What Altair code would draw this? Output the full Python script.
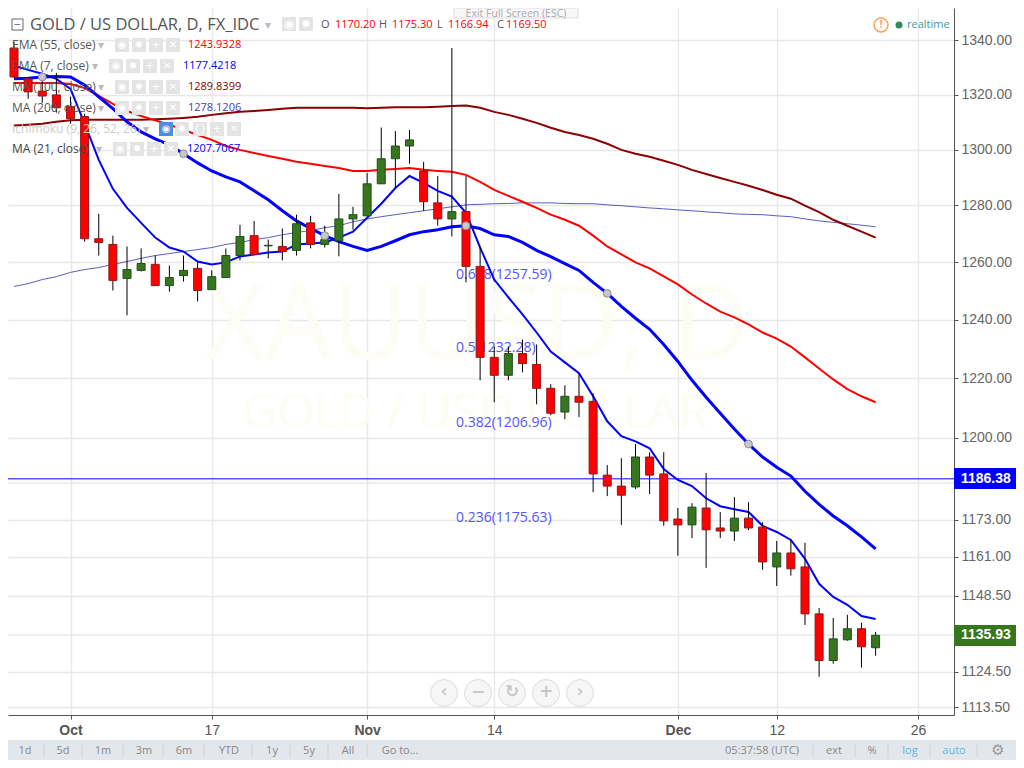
import altair as alt
import pandas as pd

# ---------- data ----------
bar_index = list(range(-4, 58))
opens = [1337.2,1325.8,1321.3,1319.9,1315.6,1312.0,1268.2,1266.2,1254.3,1257.1,1259.2,1251.8,1255.3,1257.8,1250.4,1254.6,1262.3,1269.3,1265.7,1265.5,1264.1,1273.8,1266.2,1267.5,1275.2,1276.3,1287.7,1296.7,1301.3,1292.3,1280.9,1275.2,1277.8,1258.5,1227.1,1221.0,1228.4,1224.7,1216.6,1208.6,1213.9,1212.2,1187.6,1184.0,1183.7,1193.6,1188.0,1173.2,1171.3,1176.8,1170.3,1169.3,1173.5,1170.6,1157.7,1162.2,1157.7,1142.7,1128.0,1134.5,1138.0,1132.0]
closes = [1326.5,1321.0,1319.5,1315.2,1311.2,1268.2,1266.9,1253.6,1257.4,1259.5,1251.8,1254.6,1257.1,1250.1,1254.9,1262.3,1269.0,1262.7,1265.9,1263.7,1273.5,1266.2,1267.9,1275.2,1276.7,1287.7,1296.7,1301.3,1303.5,1281.3,1275.2,1277.8,1258.5,1227.1,1221.0,1228.4,1225.0,1216.6,1208.2,1213.9,1211.9,1188.0,1184.0,1181.0,1193.6,1187.6,1172.6,1171.3,1177.1,1169.7,1169.3,1173.5,1170.3,1159.3,1162.2,1157.1,1142.7,1128.0,1134.8,1138.0,1132.3,1135.93]
highs = [1339.5,1325.8,1326.1,1328.0,1319.2,1313.0,1277.0,1269.3,1265.5,1264.8,1262.3,1258.8,1262.3,1259.9,1257.1,1264.8,1273.1,1274.5,1267.9,1271.8,1276.7,1276.3,1272.8,1284.1,1279.5,1291.6,1308.0,1306.7,1307.1,1295.6,1290.5,1337.2,1290.5,1265.5,1230.8,1230.8,1233.2,1231.5,1218.0,1217.6,1221.7,1214.9,1190.9,1193.2,1197.9,1195.2,1195.2,1176.8,1178.4,1188.3,1175.5,1180.4,1178.7,1172.2,1166.1,1166.4,1165.5,1144.6,1141.4,1142.4,1139.9,1137.0]
lows = [1326.1,1318.5,1317.0,1313.4,1309.4,1267.2,1262.3,1250.1,1241.5,1256.7,1251.8,1249.7,1253.2,1246.3,1250.4,1254.6,1260.6,1262.7,1261.3,1260.6,1262.3,1264.8,1265.1,1262.0,1271.4,1276.3,1287.7,1286.2,1294.9,1278.1,1272.8,1269.0,1252.9,1219.3,1211.9,1219.3,1222.0,1211.2,1207.5,1206.2,1206.9,1182.0,1180.7,1171.3,1183.0,1181.4,1171.0,1161.3,1167.0,1157.4,1167.0,1166.1,1169.6,1156.8,1151.6,1154.9,1139.2,1122.9,1127.0,1134.2,1125.8,1129.5]

ma21 = [1325.8,1326.0,1326.5,1326.7,1326.5,1323.5,1319.2,1314.9,1310.1,1306.4,1303.9,1301.7,1298.5,1295.2,1292.3,1290.2,1288.4,1285.2,1282.0,1278.1,1274.5,1271.8,1269.3,1267.2,1265.5,1264.1,1265.5,1267.5,1269.6,1270.7,1271.4,1272.4,1272.8,1271.8,1269.6,1269.0,1266.9,1264.1,1261.9,1259.5,1257.1,1252.9,1249.1,1244.6,1240.5,1236.7,1231.5,1225.7,1219.3,1213.6,1208.2,1202.9,1197.9,1193.6,1190.2,1187.3,1182.3,1178.0,1174.2,1171.0,1167.4,1163.5]
ema7 = [1330.6,1329.1,1327.7,1325.8,1322.1,1309.4,1296.3,1285.9,1279.1,1273.8,1268.6,1265.1,1263.7,1260.2,1259.2,1259.9,1262.0,1262.7,1263.4,1263.7,1266.2,1266.5,1266.9,1268.6,1270.7,1275.6,1280.6,1286.2,1290.5,1288.0,1285.2,1283.1,1277.4,1265.1,1253.9,1247.7,1241.8,1235.6,1229.1,1225.4,1221.7,1213.9,1205.5,1200.5,1198.8,1196.5,1189.6,1186.0,1184.0,1180.0,1177.4,1176.4,1175.5,1171.0,1169.0,1166.4,1160.3,1152.3,1148.1,1145.6,1142.0,1141.1]
ema55 = [1324.3,1324.3,1324.3,1324.3,1323.9,1322.4,1319.5,1316.6,1314.0,1312.2,1310.6,1309.0,1307.2,1305.3,1303.5,1301.3,1299.9,1298.8,1297.7,1296.7,1295.6,1294.9,1294.1,1293.4,1292.3,1292.3,1292.7,1293.0,1293.4,1292.7,1292.3,1292.0,1290.9,1288.4,1285.5,1283.4,1281.3,1279.1,1276.7,1274.9,1272.8,1269.3,1265.5,1262.7,1259.9,1257.8,1255.0,1252.2,1248.7,1245.6,1242.8,1240.8,1238.4,1235.6,1233.5,1230.8,1227.1,1223.3,1219.6,1216.3,1213.9,1211.9]
ma100 = [1308.7,1309.0,1309.4,1310.1,1310.6,1310.8,1310.8,1310.8,1310.8,1310.8,1311.0,1311.2,1311.5,1311.9,1312.6,1313.2,1313.7,1314.0,1314.4,1314.8,1315.2,1315.2,1315.2,1315.2,1315.2,1315.0,1315.2,1315.4,1315.4,1315.4,1315.6,1315.8,1316.0,1315.2,1313.7,1312.6,1311.2,1309.7,1307.9,1306.4,1305.3,1303.9,1302.1,1299.9,1298.5,1297.4,1296.0,1294.5,1292.7,1291.2,1289.8,1288.4,1287.0,1285.5,1283.8,1282.4,1279.9,1277.6,1274.9,1272.8,1270.7,1268.6]
ma200 = [1251.5,1252.5,1253.9,1254.9,1256.4,1257.4,1258.1,1259.2,1260.2,1261.3,1262.3,1263.0,1263.7,1264.4,1265.1,1266.2,1266.9,1267.9,1268.6,1269.6,1270.4,1271.1,1272.1,1272.8,1274.2,1275.2,1276.0,1276.7,1277.4,1278.1,1278.8,1279.5,1280.2,1280.4,1280.6,1280.7,1280.9,1280.9,1280.9,1280.7,1280.6,1280.6,1280.2,1279.9,1279.5,1279.1,1278.8,1278.4,1278.1,1277.7,1277.4,1277.0,1276.8,1276.7,1276.3,1276.0,1275.2,1274.5,1274.0,1273.5,1273.0,1272.4]
anchor_bars = [-2, 8, 18, 28, 38, 48]

price_ticks = [1340, 1320, 1300, 1280, 1260, 1240, 1220, 1200, 1173, 1161, 1148.5, 1124.5, 1113.5]
extra_grid = [1185, 1136]
date_ticks = [0, 10, 21, 30, 43, 50, 60]
date_labels = ["Oct", "17", "Nov", "14", "Dec", "12", "26"]
bold_dates = [0, 21, 43]

fib_labels = ["0.618(1257.59)", "0.5(1232.28)", "0.382(1206.96)", "0.236(1175.63)"]
fib_prices = [1257.59, 1232.28, 1206.96, 1175.63]

last_line = 1186.38
last_close = 1135.93

# ---------- scales ----------
xscale = alt.Scale(domain=[-4.425, 62.55], nice=False, zero=False, padding=0)
yscale = alt.Scale(type="log", domain=[1111.05, 1352.15], nice=False, zero=False, padding=0)
FONT = "Liberation Sans"
UI = "Open Sans"

date_expr = "".join(f"datum.value=={v}?'{t}':" for v, t in zip(date_ticks, date_labels)) + "''"
bold_test = "||".join(f"datum.value=={v}" for v in bold_dates)

x_axis = alt.Axis(values=date_ticks, labelExpr=date_expr, title=None, grid=True,
                  gridColor="#e8e8e8", gridWidth=1.4, domainColor="#555555", tickColor="#555555",
                  tickSize=4, labelFont=FONT, labelFontSize=14, labelColor="#555555", labelPadding=4,
                  labelFontWeight=alt.condition(bold_test, alt.value("bold"), alt.value("normal")),
                  labelOverlap=False)
y_axis = alt.Axis(values=price_ticks, format=".2f", orient="right", title=None, grid=True,
                  gridColor="#e8e8e8", gridWidth=1.4, domainColor="#555555", tickColor="#555555",
                  tickSize=4, labelFont=FONT, labelFontSize=14, labelColor="#666666", labelPadding=3,
                  labelOverlap=False)

X = alt.X("i:Q", scale=xscale, axis=x_axis)


def Y(field):
    return alt.Y(field, scale=yscale, axis=y_axis)


bars = pd.DataFrame({"i": bar_index, "o": opens, "c": closes, "h": highs, "l": lows,
                     "ma21": ma21, "ema7": ema7, "ema55": ema55, "ma100": ma100, "ma200": ma200})
bars["dir"] = ["up" if c >= o else "down" for o, c in zip(opens, closes)]
one = pd.DataFrame({"a": [0]})
layers = []


# ---------- page furniture in pixel coordinates (page minus 8px margin) ----------
def label(s, x, y, color="#555555", size=12, weight="normal", align="left", font=UI):
    return alt.Chart(one).mark_text(text=s, color=color, fontSize=size, fontWeight=weight,
                                    align=align, baseline="middle", font=font).encode(
        x=alt.value(x - 8), y=alt.value(y - 8))


def box(x0, y0, x1, y1, fill, stroke=None, opacity=1):
    kw = {"stroke": stroke} if stroke else {}
    return alt.Chart(one).mark_rect(color=fill, opacity=opacity, **kw).encode(
        x=alt.value(x0 - 8), x2=alt.value(x1 - 8), y=alt.value(y0 - 8), y2=alt.value(y1 - 8))


def dot(x, y, d, fill, stroke=None, sw=1):
    kw = {"stroke": stroke, "strokeWidth": sw} if stroke else {"strokeWidth": 0}
    return alt.Chart(one).mark_point(filled=True, fill=fill, shape="circle", size=d * d, opacity=1, **kw).encode(
        x=alt.value(x - 8), y=alt.value(y - 8))


# watermark
layers.append(label("XAUUSD, D", 477, 327, "#fdfcf5", 105, align="center"))
layers.append(label("GOLD / USD DOLLAR", 475, 414, "#fdfcf5", 48, align="center"))

# extra grid lines
layers.append(alt.Chart(pd.DataFrame({"p": extra_grid})).mark_rule(color="#e8e8e8", strokeWidth=1.4).encode(
    y=Y("p:Q")))

# fibonacci labels
layers.append(alt.Chart(pd.DataFrame({"t": fib_labels, "p": fib_prices})).mark_text(
    align="left", baseline="middle", dy=6, font=UI, fontSize=14, color="#5555ff").encode(
    x=alt.value(456 - 8), y=Y("p:Q"), text="t:N"))

# indicator lines
for col, colr, w, op in [("ma200", "#3f3fb5", 1, 0.85), ("ma100", "#8b0000", 2, 1), ("ema55", "#ff0000", 2, 1),
                         ("ema7", "#0000ff", 2, 1), ("ma21", "#0000ff", 3, 1)]:
    layers.append(alt.Chart(bars).mark_line(color=colr, strokeWidth=w, opacity=op, interpolate="linear").encode(
        x=X, y=Y(f"{col}:Q")))

# horizontal line at the latest drawn level
layers.append(alt.Chart(pd.DataFrame({"p": [last_line]})).mark_rule(color="#0000ff", strokeWidth=1).encode(
    y=Y("p:Q")))

# candles
layers.append(alt.Chart(bars).mark_rule(color="#000000", strokeWidth=1).encode(
    x=X, y=Y("h:Q"), y2="l:Q"))
dir_dom = ["up", "down"]
layers.append(alt.Chart(bars).mark_bar(size=8, strokeWidth=1, opacity=1).encode(
    x=X, y=Y("o:Q"), y2="c:Q",
    color=alt.Color("dir:N", scale=alt.Scale(domain=dir_dom, range=["#38761d", "#ff0000"]), legend=None),
    stroke=alt.Stroke("dir:N", scale=alt.Scale(domain=dir_dom, range=["#1f4f22", "#8b1a1a"]), legend=None)))

# drawing anchors on the thick line
layers.append(alt.Chart(bars[bars["i"].isin(anchor_bars)]).mark_point(
    filled=True, fill="#c8c8c8", stroke="#8f8f8f", strokeWidth=1, size=60, opacity=1).encode(
    x=X, y=Y("ma21:Q")))

# price tags
layers.append(box(954, 468, 1016, 489, "#0000ff"))
layers.append(box(954, 625, 1016, 646, "#38761d"))
layers.append(alt.Chart(pd.DataFrame({"p": [last_line, last_close]})).mark_text(
    align="left", baseline="middle", font=FONT, fontSize=14, fontWeight="bold", color="#ffffff").encode(
    x=alt.value(961 - 8), y=Y("p:Q"), text=alt.Text("p:Q", format=".2f")))

# fullscreen hint (under the price read-out)
layers.append(box(454, 8, 578, 18, "#f8f8f8", "#dddddd"))
layers.append(label("Exit Full Screen (ESC)", 516, 14, "#aaaaaa", 10.5, align="center"))

# header
layers.append(box(12, 19, 23, 30, "#ffffff", "#666666"))
layers.append(label("−", 17.5, 24.5, "#666666", 12, align="center"))
layers.append(label("GOLD / US DOLLAR, D, FX_IDC", 30, 25, "#555555", 16.5))
layers.append(label("▾", 268, 25, "#bbbbbb", 12, align="center", font="DejaVu Sans"))
for x, g in [(289, "◉"), (306, "✹")]:
    layers.append(box(282, 17, 296, 31, "#e4e4e4") if x == 289 else box(299, 17, 313, 31, "#e4e4e4"))
    layers.append(label(g, x, 24, "#ffffff", 12, align="center", font="DejaVu Sans"))
for s, x, c in [("O", 321, "#555555"), ("1170.20", 335, "#ff0000"), ("H", 379, "#555555"), ("1175.30", 392, "#ff0000"),
                ("L", 437, "#555555"), ("1166.94", 448, "#ff0000"), ("C", 497, "#555555"), ("1169.50", 506, "#ff0000")]:
    layers.append(label(s, x, 25, c, 11))

# indicator legend
legend_rows = [
    ("EMA (55, close)", 45, "#555555", 101, [122, 139, 156, 173], "1243.9328", 188, "#ff0000"),
    ("EMA (7, close)", 66, "#555555", 95, [116, 133, 150, 167], "1177.4218", 183, "#0000ff"),
    ("MA (100, close)", 87, "#555555", 101, [122, 139, 156, 173], "1289.8399", 188, "#8b0000"),
    ("MA (200, close)", 108, "#555555", 101, [122, 139, 156, 173], "1278.1206", 188, "#3f3fb5"),
    ("Ichimoku (9, 26, 52, 26)", 129, "#cccccc", 146, [166, 182, 200, 217, 234], "", 0, "#000000"),
    ("MA (21, close)", 149, "#444444", 99, [120, 137, 154, 171], "1207.7067", 187, "#0000ff"),
]
glyphs4 = ["◉", "✹", "+", "✕"]
glyphs5 = ["◉", "✹", "{}", "+", "✕"]
for txt, y, col, arrow, btns, val, vx, vc in legend_rows:
    layers.append(label(txt, 12, y, col, 12))
    layers.append(label("▾", arrow, y, "#bbbbbb", 12, align="center", font="DejaVu Sans"))
    gl = glyphs5 if len(btns) == 5 else glyphs4
    for k, (bx, g) in enumerate(zip(btns, gl)):
        fill = "#4a90e2" if (len(btns) == 5 and k == 0) else "#e4e4e4"
        layers.append(box(bx - 7, y - 7, bx + 7, y + 7, fill))
        layers.append(label(g, bx, y, "#ffffff", 10, align="center", font="DejaVu Sans"))
    if val:
        layers.append(label(val, vx, y, vc, 11))

# realtime badge
layers.append(dot(881, 25, 14, "#ffffff", "#ffa060", 1.5))
layers.append(label("!", 881, 25, "#ffa060", 11, "bold", "center"))
layers.append(dot(899, 25, 7, "#2e8b57"))
layers.append(label("realtime", 907, 25, "#3a9a9a", 11))

# pan and zoom buttons
for x, g in zip([444, 478, 512, 546, 580], ["‹", "−", "↻", "+", "›"]):
    layers.append(dot(x, 693, 27, "#f6f6f6", "#dddddd", 1))
    layers.append(label(g, x, 692, "#c8c8c8", 17, "bold", "center", "DejaVu Sans"))

# bottom toolbar
layers.append(box(8, 740, 1016, 760, "#e3e7ec"))
for s, x in [("1d", 25), ("5d", 63), ("1m", 103), ("3m", 144), ("6m", 184), ("YTD", 229), ("1y", 272), ("5y", 309),
             ("All", 348), ("Go to...", 400), ("05:37:58 (UTC)", 762), ("ext", 834), ("%", 872)]:
    layers.append(label(s, x, 751, "#888888", 11, align="center"))
layers.append(label("log", 910, 751, "#5bb8e8", 11, align="center"))
layers.append(label("auto", 954, 751, "#5bb8e8", 11, align="center"))
layers.append(label("⚙", 998, 750, "#999999", 15, align="center", font="DejaVu Sans"))
for x in [44, 82, 123, 163, 204, 252, 290, 328, 367, 813, 855, 888, 930, 977]:
    layers.append(alt.Chart(one).mark_rule(color="#d0d4da").encode(
        x=alt.value(x - 8), y=alt.value(743 - 8), y2=alt.value(758 - 8)))

chart = alt.layer(*layers).properties(
    width=946, height=707,
    autosize=alt.AutoSizeParams(type="none"),
    padding={"left": 0, "top": 0, "right": 62, "bottom": 45},
    background="#ffffff",
).configure_view(stroke=None)

chart.save("out.html", embed_options={"renderer": "svg", "actions": False})
